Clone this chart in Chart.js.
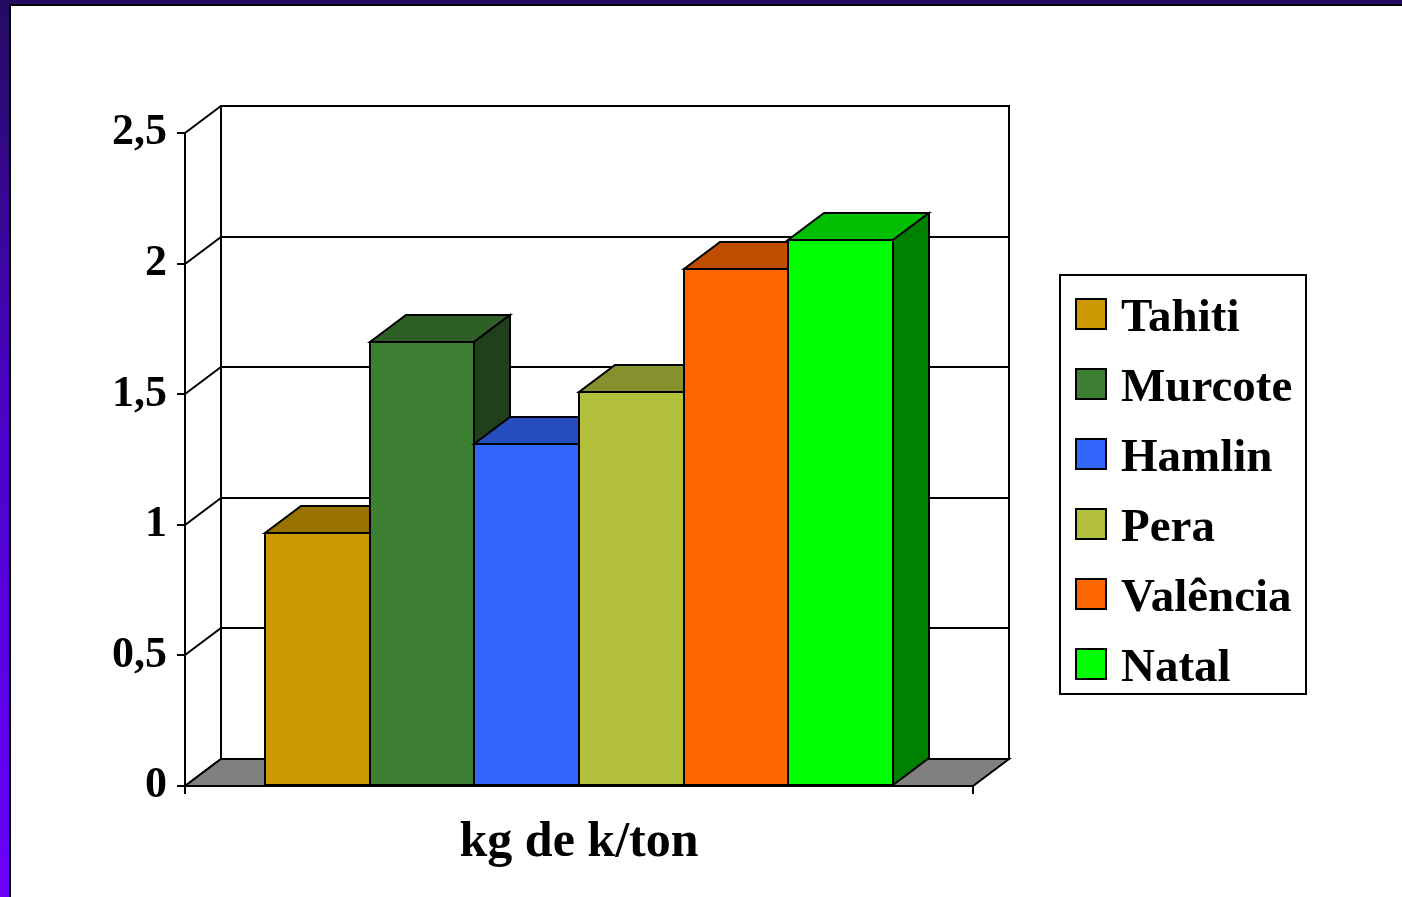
<!DOCTYPE html>
<html>
<head>
<meta charset="utf-8">
<title>Potássio por variedade</title>
<script src="https://cdn.jsdelivr.net/npm/chart.js@4/dist/chart.umd.min.js"></script>
<style>
  html, body { margin: 0; padding: 0; width: 1402px; height: 897px; overflow: hidden; }
  body { background: linear-gradient(to bottom, #240b62 0%, #4a03c4 45%, #6a00ff 100%); position: relative; }
  #sheet {
    position: absolute; left: 9px; top: 4px; right: 0; bottom: 0;
    background: #ffffff; border-left: 2px solid #000; border-top: 2px solid #000;
  }
  #chart { position: absolute; left: 0; top: 0; }
</style>
</head>
<body>
<div id="sheet"></div>
<canvas id="chart" width="1402" height="897"></canvas>
<script>
// Potassium content (kg of K per ton of fruit) by orange variety
const categories = ['kg de k/ton'];
const varieties = ['Tahiti', 'Murcote', 'Hamlin', 'Pera', 'Valência', 'Natal'];
const potassium = [0.97, 1.70, 1.31, 1.51, 1.98, 2.09];
const barColors = ['#CC9900', '#3D8033', '#3366FF', '#B2C03C', '#FF6600', '#00FF00'];
const yTickValues = [0, 0.5, 1, 1.5, 2, 2.5];
const yTickLabels = ['0', '0,5', '1', '1,5', '2', '2,5'];

// depth of the 3-D box, in pixels
const DEPTH_X = 36;
const DEPTH_Y = 27;
const FONT = 'Liberation Serif';
const R = Math.round;

function shade(hex, f) {
  const n = parseInt(hex.slice(1), 16);
  const r = R(((n >> 16) & 255) * f);
  const g = R(((n >> 8) & 255) * f);
  const b = R((n & 255) * f);
  return `rgb(${r},${g},${b})`;
}

function poly(ctx, pts, fill) {
  ctx.beginPath();
  ctx.moveTo(pts[0][0], pts[0][1]);
  for (let i = 1; i < pts.length; i++) ctx.lineTo(pts[i][0], pts[i][1]);
  ctx.closePath();
  if (fill) { ctx.fillStyle = fill; ctx.fill(); }
  ctx.stroke();
}

// back wall, left wall and floor of the 3-D box
const box3d = {
  id: 'box3d',
  beforeDraw(chart) {
    const { ctx, chartArea: a, scales: { y } } = chart;
    const L = R(a.left), Rt = R(a.right), T = R(a.top), B = R(a.bottom);
    ctx.save();
    ctx.strokeStyle = '#000';
    ctx.lineWidth = 2;
    ctx.lineJoin = 'miter';
    // back wall
    ctx.fillStyle = '#fff';
    ctx.fillRect(L + DEPTH_X, T - DEPTH_Y, Rt - L, B - T);
    // gridlines on the back wall and their run across the left wall
    yTickValues.forEach(v => {
      const py = R(y.getPixelForValue(v));
      ctx.beginPath();
      ctx.moveTo(L, py);
      ctx.lineTo(L + DEPTH_X, py - DEPTH_Y);
      ctx.lineTo(Rt + DEPTH_X, py - DEPTH_Y);
      ctx.stroke();
    });
    ctx.strokeRect(L + DEPTH_X, T - DEPTH_Y, Rt - L, B - T);
    // floor
    poly(ctx, [
      [L, B], [Rt, B],
      [Rt + DEPTH_X, B - DEPTH_Y], [L + DEPTH_X, B - DEPTH_Y]
    ], '#808080');
    ctx.restore();
  },
  // bars are drawn left to right so each one hides the side of the one before
  beforeDatasetsDraw(chart) {
    const { ctx } = chart;
    ctx.save();
    ctx.strokeStyle = '#000';
    ctx.lineWidth = 2;
    ctx.lineJoin = 'miter';
    chart.data.datasets.forEach((ds, i) => {
      const meta = chart.getDatasetMeta(i);
      if (meta.hidden) return;
      meta.data.forEach(bar => {
        const p = bar.getProps(['x', 'y', 'base', 'width'], true);
        const l = R(p.x - p.width / 2), r = R(p.x + p.width / 2);
        const top = R(p.y), base = R(p.base);
        const col = ds.backgroundColor;
        bar.draw(ctx, chart.chartArea);
        ctx.strokeRect(l, top, r - l, base - top);
        poly(ctx, [[l, top], [r, top], [r + DEPTH_X, top - DEPTH_Y], [l + DEPTH_X, top - DEPTH_Y]], shade(col, 0.75));
        poly(ctx, [[r, top], [r + DEPTH_X, top - DEPTH_Y], [r + DEPTH_X, base - DEPTH_Y], [r, base]], shade(col, 0.5));
      });
    });
    ctx.restore();
    return false;
  },
  // boxed legend on the right
  afterDraw(chart) {
    const { ctx } = chart;
    ctx.save();
    ctx.strokeStyle = '#000';
    ctx.lineWidth = 2;
    ctx.strokeRect(1060, 275, 246, 419);
    ctx.font = `bold 47px "${FONT}"`;
    ctx.textBaseline = 'alphabetic';
    ctx.textAlign = 'left';
    chart.data.datasets.forEach((ds, i) => {
      const top = 299 + 70 * i;
      ctx.fillStyle = ds.backgroundColor;
      ctx.fillRect(1076, top, 30, 30);
      ctx.strokeRect(1076, top, 30, 30);
      ctx.fillStyle = '#000';
      ctx.fillText(ds.label, 1121, top + 32);
    });
    ctx.restore();
  }
};

Chart.defaults.font.family = FONT;

new Chart(document.getElementById('chart'), {
  type: 'bar',
  data: {
    labels: categories,
    datasets: varieties.map((name, i) => ({
      label: name,
      data: [potassium[i]],
      backgroundColor: barColors[i],
      borderWidth: 0,
      categoryPercentage: 0.797,
      barPercentage: 1.0
    }))
  },
  options: {
    responsive: false,
    animation: false,
    devicePixelRatio: 1,
    layout: { padding: { top: 133, right: 429, bottom: 0, left: 0 } },
    plugins: {
      legend: { display: false },
      tooltip: { enabled: false },
      title: { display: false }
    },
    scales: {
      x: {
        afterFit(s) { s.height = 111; },
        grid: { display: true, drawOnChartArea: false, drawTicks: true, tickLength: 8, color: '#000', lineWidth: 2, offset: true },
        border: { display: true, color: '#000', width: 2 },
        ticks: { color: '#000', font: { size: 50, weight: 'bold' }, padding: 19 }
      },
      y: {
        min: 0,
        max: 2.5,
        afterFit(s) { s.width = 185; },
        afterBuildTicks(s) { s.ticks = yTickValues.map(v => ({ value: v })); },
        grid: { display: true, drawOnChartArea: false, drawTicks: true, tickLength: 8, color: '#000', lineWidth: 2 },
        border: { display: true, color: '#000', width: 2 },
        ticks: {
          color: '#000',
          font: { size: 44, weight: 'bold' },
          padding: 10,
          callback: (v, idx) => yTickLabels[idx]
        }
      }
    }
  },
  plugins: [box3d]
});
</script>
</body>
</html>
